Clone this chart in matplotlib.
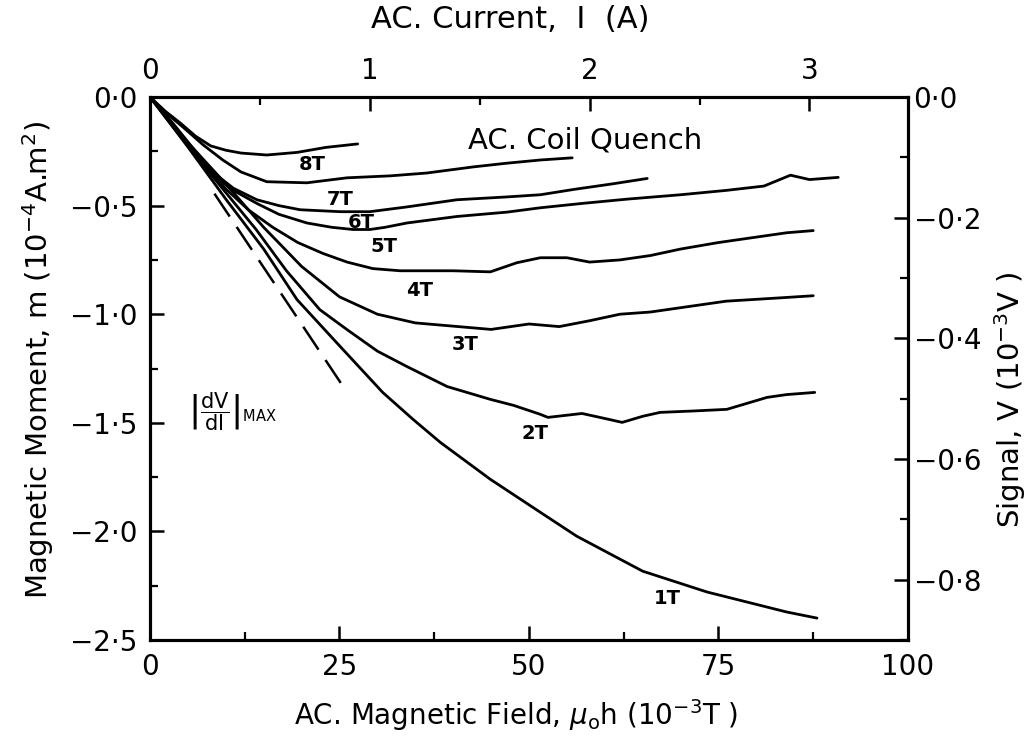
import matplotlib
matplotlib.use("Agg")
import matplotlib.pyplot as plt
from matplotlib.ticker import MultipleLocator, FuncFormatter

plt.rcParams['font.family'] = ['DejaVu Sans']
plt.rcParams['mathtext.fontset'] = 'dejavusans'

# Curves: AC magnetic field (1e-3 T) vs magnetic moment (1e-4 A.m^2)
field_8T = [0, 2, 4, 6, 8, 10, 12, 15.4, 19.4, 23.2, 27.4]
moment_8T = [0, -0.065, -0.12, -0.18, -0.225, -0.245, -0.258, -0.267, -0.255, -0.232, -0.216]

field_7T = [0, 2, 4.4, 7, 9.6, 12, 15.4, 20.7, 26, 31.7, 36.5, 42.6, 47, 51.5, 55.7]
moment_7T = [0, -0.07, -0.14, -0.22, -0.29, -0.345, -0.39, -0.395, -0.372, -0.363, -0.35,
             -0.322, -0.305, -0.29, -0.28]

field_6T = [0, 3, 6, 8.8, 11, 14.1, 17, 19.8, 25.1, 29, 33.9, 40.5, 47.1, 51.5, 56, 61, 65.6]
moment_6T = [0, -0.12, -0.25, -0.36, -0.42, -0.473, -0.50, -0.519, -0.528, -0.528, -0.506,
             -0.473, -0.46, -0.45, -0.425, -0.40, -0.375]

field_5T = [0, 3, 6, 9, 11, 14.1, 17, 20.7, 24, 26.8, 29, 31, 33.9, 40.5, 47.1, 51.5, 57, 63,
            70, 76, 81, 84.5, 87, 90.8]
moment_5T = [0, -0.13, -0.26, -0.38, -0.43, -0.49, -0.54, -0.58, -0.60, -0.61, -0.61, -0.60,
             -0.58, -0.55, -0.53, -0.51, -0.49, -0.47, -0.45, -0.43, -0.41, -0.36, -0.38, -0.37]

field_4T = [0, 3, 6, 9.6, 13, 16.2, 19.5, 22.8, 26, 29.4, 33, 36, 40, 44.9, 48.4, 51.5, 55, 58,
            62, 66, 70, 75, 80, 84, 87.5]
moment_4T = [0, -0.13, -0.27, -0.41, -0.52, -0.60, -0.67, -0.72, -0.76, -0.79, -0.80, -0.80,
             -0.80, -0.805, -0.763, -0.74, -0.74, -0.76, -0.75, -0.73, -0.70, -0.67, -0.645,
             -0.625, -0.615]

field_3T = [0, 5, 10, 15, 20, 25, 30, 35, 40, 45, 50, 54, 58, 62, 66, 71, 76, 83, 87.5]
moment_3T = [0, -0.21, -0.40, -0.60, -0.78, -0.92, -1.00, -1.04, -1.055, -1.07, -1.045, -1.057,
             -1.03, -1.00, -0.99, -0.965, -0.94, -0.925, -0.915]

field_2T = [0, 3, 6, 10, 14, 18, 22.4, 26, 30, 33.9, 39.2, 44.9, 48, 51.5, 52.5, 55, 57, 60,
            62.3, 65, 67.3, 72, 76.1, 81.4, 84, 87.7]
moment_2T = [0, -0.135, -0.27, -0.44, -0.61, -0.80, -0.979, -1.071, -1.17, -1.241, -1.333,
             -1.392, -1.42, -1.461, -1.475, -1.465, -1.457, -1.48, -1.498, -1.47, -1.452, -1.445,
             -1.438, -1.383, -1.37, -1.36]

field_1T = [0, 5, 10, 15, 19.4, 25.1, 30.7, 34.7, 38.3, 44.9, 51.5, 56.3, 65, 73.5, 84, 88]
moment_1T = [0, -0.23, -0.47, -0.70, -0.933, -1.149, -1.36, -1.484, -1.59, -1.76, -1.912,
             -2.022, -2.183, -2.279, -2.371, -2.399]

# |dV/dI| max tangent
tangent_field = [8.5, 26]
tangent_moment = [-0.445, -1.36]

curve_names = ['8T', '7T', '6T', '5T', '4T', '3T', '2T', '1T']
label_pos = [(21.4, -0.31), (25.1, -0.47), (27.9, -0.58), (30.9, -0.69),
             (35.6, -0.89), (41.6, -1.14), (50.8, -1.55), (68.3, -2.31)]

curves = [(field_8T, moment_8T), (field_7T, moment_7T), (field_6T, moment_6T),
          (field_5T, moment_5T), (field_4T, moment_4T), (field_3T, moment_3T),
          (field_2T, moment_2T), (field_1T, moment_1T)]

amps_per_field = 1 / 29.0   # top axis: current (A)
volts_min = -0.9            # right axis: signal (1e-3 V)


def dot_fmt(v, pos):
    s = f"{abs(v):.1f}".replace('.', '·')
    return ('−' + s) if v < -1e-9 else s


fig = plt.figure(figsize=(10.36, 7.36), dpi=100)
ax = fig.add_axes([0.1448, 0.1304, 0.7316, 0.7378])

for (fx, my), name, (lx, ly) in zip(curves, curve_names, label_pos):
    ax.plot(fx, my, color='black', lw=2.0, solid_capstyle='round')
    ax.text(lx, ly, name, fontsize=14, ha='center', va='center', fontweight='bold')

ax.plot(tangent_field, tangent_moment, color='black', lw=1.8, dashes=(11, 5))

ax.text(42, -0.2, 'AC. Coil Quench', fontsize=21, va='center', ha='left')
ax.text(5, -1.45, r'$\left|\dfrac{\mathrm{dV}}{\mathrm{dI}}\right|_{\mathrm{MAX}}$',
        fontsize=15, va='center')

ax.set_xlim(0, 100)
ax.set_ylim(-2.5, 0)
ax.xaxis.set_major_locator(MultipleLocator(25))
ax.xaxis.set_minor_locator(MultipleLocator(12.5))
ax.yaxis.set_major_locator(MultipleLocator(0.5))
ax.yaxis.set_minor_locator(MultipleLocator(0.25))
ax.yaxis.set_major_formatter(FuncFormatter(dot_fmt))

ax_top = ax.twiny()
ax_top.set_xlim(0, 100 * amps_per_field)
ax_top.xaxis.set_major_locator(MultipleLocator(1))
ax_top.xaxis.set_minor_locator(MultipleLocator(0.5))

ax_right = ax.twinx()
ax_right.set_ylim(volts_min, 0)
ax_right.yaxis.set_major_locator(MultipleLocator(0.2))
ax_right.yaxis.set_minor_locator(MultipleLocator(0.1))
ax_right.yaxis.set_major_formatter(FuncFormatter(dot_fmt))

for a in (ax, ax_top, ax_right):
    for sp in a.spines.values():
        sp.set_linewidth(2.2)
    a.tick_params(which='major', direction='in', length=10, width=1.8, labelsize=20, pad=9)
    a.tick_params(which='minor', direction='in', length=6, width=1.6)
ax_right.tick_params(which='major', pad=4)

# axis titles
fig.text(0.483 * 0.7316 + 0.1448, 1 - 715 / 736,
         r'AC. Magnetic Field, $\mu_{\mathrm{o}}$h (10$^{-3}$T )',
         fontsize=20, ha='center', va='center')
fig.text(0.475 * 0.7316 + 0.1448, 1 - 20 / 736, 'AC. Current,  I  (A)',
         fontsize=22, ha='center', va='center')
fig.text(38 / 1036, 1 - 360 / 736, r'Magnetic Moment, m (10$^{-4}$A.m$^{2}$)',
         fontsize=21, ha='center', va='center', rotation=90)
fig.text(1010 / 1036, 1 - 400 / 736, r'Signal, V (10$^{-3}$V )',
         fontsize=21, ha='center', va='center', rotation=90)

fig.savefig('out.png', dpi=100)
